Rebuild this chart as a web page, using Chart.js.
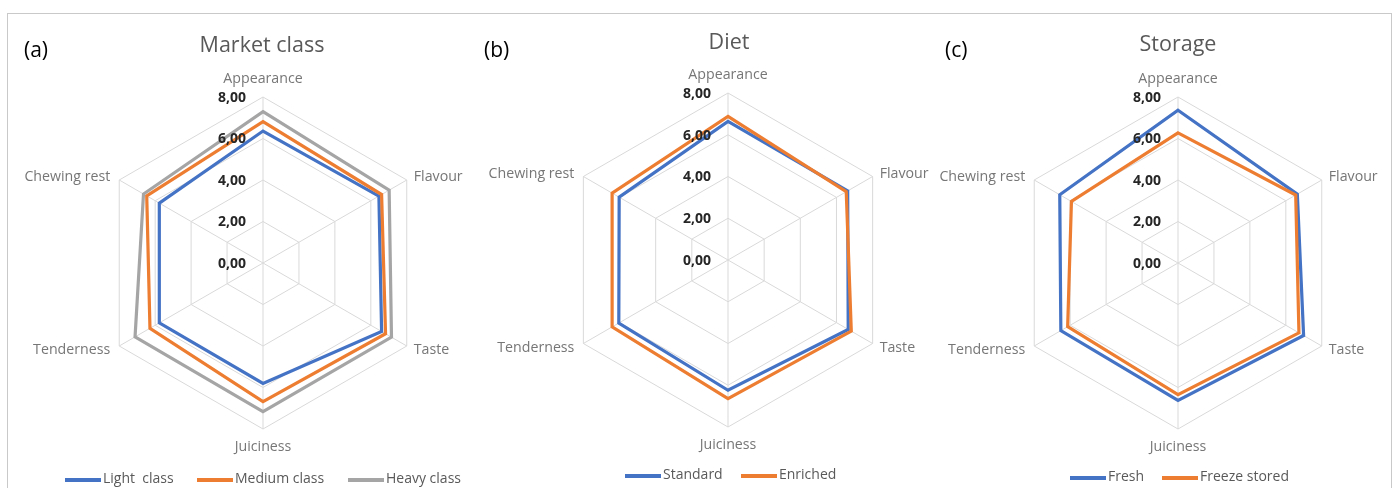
<!DOCTYPE html>
<html>
<head>
<meta charset="utf-8">
<script src="https://cdn.jsdelivr.net/npm/chart.js@4.4.1/dist/chart.umd.min.js"></script>
<style>
  html, body { margin: 0; padding: 0; background: #fff; }
  body { width: 1395px; height: 488px; position: relative; overflow: hidden; font-family: "Open Sans", sans-serif; }
  .frame { position: absolute; left: 7px; top: 13px; width: 1385px; height: 500px; border: 1px solid #c9c9c9; box-sizing: border-box; }
  .panel { position: absolute; top: 0; width: 465px; height: 488px; }
  .panel canvas { position: absolute; left: 0; top: 0; }
  .tag { position: absolute; font-size: 21px; color: #000; top: 35px; }
  .title { position: absolute; font-size: 21.5px; color: #595959; top: 29px; transform: translateX(-50%); white-space: nowrap; }
  .legend { position: absolute; top: 468px; font-size: 14px; color: #595959; white-space: pre; }
  .legend span { position: absolute; }
  .legend i { position: absolute; top: 10px; width: 36px; height: 3.5px; }
</style>
</head>
<body>
<div class="frame"></div>

<div class="panel" id="pa" style="left:0px">
  <canvas id="ca" width="465" height="488"></canvas>
  <div class="tag" style="left:24px">(a)</div>
  <div class="title" style="left:262px">Market class</div>
  <div class="legend" id="la"></div>
</div>
<div class="panel" id="pb" style="left:465px">
  <canvas id="cb" width="465" height="488"></canvas>
  <div class="tag" style="left:19px">(b)</div>
  <div class="title" style="left:264px;top:26px">Diet</div>
  <div class="legend" id="lb" style="top:464px"></div>
</div>
<div class="panel" id="pc" style="left:930px">
  <canvas id="cc" width="465" height="488"></canvas>
  <div class="tag" style="left:15px">(c)</div>
  <div class="title" style="left:248px;top:28px">Storage</div>
  <div class="legend" id="lc" style="top:466px"></div>
</div>

<script>
const categories = ['Appearance', 'Flavour', 'Taste', 'Juiciness', 'Tenderness', 'Chewing rest'];
const tickLabels = ['0,00', '2,00', '4,00', '6,00', '8,00'];

// (a) market class
const lightClass  = [6.36, 6.45, 6.60, 5.80, 5.77, 5.77];
const mediumClass = [6.81, 6.60, 6.82, 6.68, 6.29, 6.47];
const heavyClass  = [7.29, 7.02, 7.15, 7.16, 7.12, 6.65];
// (b) diet
const standardDiet = [6.64, 6.62, 6.65, 6.24, 6.04, 6.02];
const enrichedDiet = [6.88, 6.54, 6.82, 6.64, 6.41, 6.41];
// (c) storage
const freshMeat  = [7.36, 6.64, 6.99, 6.62, 6.52, 6.58];
const frozenMeat = [6.27, 6.55, 6.73, 6.34, 6.14, 5.93];

const BLUE = '#4472c4', ORANGE = '#ed7d31', GRAY = '#a5a5a5';

// draws the Excel-like tick labels (left of the axis) and category labels
const excelLabels = {
  id: 'excelLabels',
  afterDatasetsDraw(chart) {
    const s = chart.scales.r;
    const ctx = chart.ctx;
    ctx.save();
    ctx.font = '14.2px "Open Sans"';
    ctx.fillStyle = '#767676';
    categories.forEach((c, i) => {
      const p = s.getPointPositionForValue(i, 8);
      const dx = p.x - s.xCenter;
      ctx.textBaseline = 'middle';
      if (Math.abs(dx) < 1) {
        ctx.textAlign = 'center';
        ctx.fillText(c, p.x, p.y + (p.y < s.yCenter ? -18 : 18));
      } else {
        ctx.textAlign = dx > 0 ? 'left' : 'right';
        ctx.fillText(c, p.x + (dx > 0 ? 7 : -9), p.y + (p.y < s.yCenter ? -3 : 4));
      }
    });
    ctx.font = 'bold 14px "Open Sans"';
    ctx.fillStyle = '#262626';
    ctx.textAlign = 'right';
    ctx.textBaseline = 'middle';
    s.ticks.forEach((t, i) => {
      const d = s.getDistanceFromCenterForValue(t.value);
      ctx.fillText(tickLabels[i], s.xCenter - 17, s.yCenter - d + 1);
    });
    ctx.restore();
  }
};

function makeRadar(id, cx, cy, R, series) {
  const el = document.getElementById(id);
  new Chart(el, {
    type: 'radar',
    data: {
      labels: categories,
      datasets: series.map((s, i) => ({
        label: s.name,
        data: s.data,
        borderColor: s.color,
        backgroundColor: 'transparent',
        borderWidth: 3.2,
        pointRadius: 0,
        fill: false,
        order: series.length - i,
      })),
    },
    options: {
      responsive: false,
      animation: false,
      devicePixelRatio: 1,
      layout: { padding: { left: cx - R, right: el.width - cx - R, top: cy - R, bottom: el.height - cy - R } },
      plugins: { legend: { display: false }, tooltip: { enabled: false } },
      scales: {
        r: {
          min: 0,
          max: 8,
          ticks: { stepSize: 2, display: false },
          grid: { color: '#d9d9d9', lineWidth: 1 },
          angleLines: { color: '#d9d9d9', lineWidth: 1 },
          pointLabels: { display: false },
        },
      },
    },
    plugins: [excelLabels],
  });
}

function makeLegend(id, items) {
  const box = document.getElementById(id);
  items.forEach(it => {
    const line = document.createElement('i');
    line.style.left = it.x + 'px';
    line.style.background = it.color;
    const txt = document.createElement('span');
    txt.style.left = (it.x + 38) + 'px';
    txt.textContent = it.name;
    box.appendChild(line);
    box.appendChild(txt);
  });
}

makeRadar('ca', 263, 263, 166, [
  { name: 'Light  class', data: lightClass, color: BLUE },
  { name: 'Medium class', data: mediumClass, color: ORANGE },
  { name: 'Heavy class', data: heavyClass, color: GRAY },
]);
makeRadar('cb', 263, 260, 167, [
  { name: 'Standard', data: standardDiet, color: BLUE },
  { name: 'Enriched', data: enrichedDiet, color: ORANGE },
]);
makeRadar('cc', 248, 263, 166, [
  { name: 'Fresh', data: freshMeat, color: BLUE },
  { name: 'Freeze stored', data: frozenMeat, color: ORANGE },
]);

makeLegend('la', [
  { name: 'Light  class', color: BLUE, x: 65 },
  { name: 'Medium class', color: ORANGE, x: 197 },
  { name: 'Heavy class', color: GRAY, x: 348 },
]);
makeLegend('lb', [
  { name: 'Standard', color: BLUE, x: 160 },
  { name: 'Enriched', color: ORANGE, x: 276 },
]);
makeLegend('lc', [
  { name: 'Fresh', color: BLUE, x: 140 },
  { name: 'Freeze stored', color: ORANGE, x: 232 },
]);
</script>
</body>
</html>
